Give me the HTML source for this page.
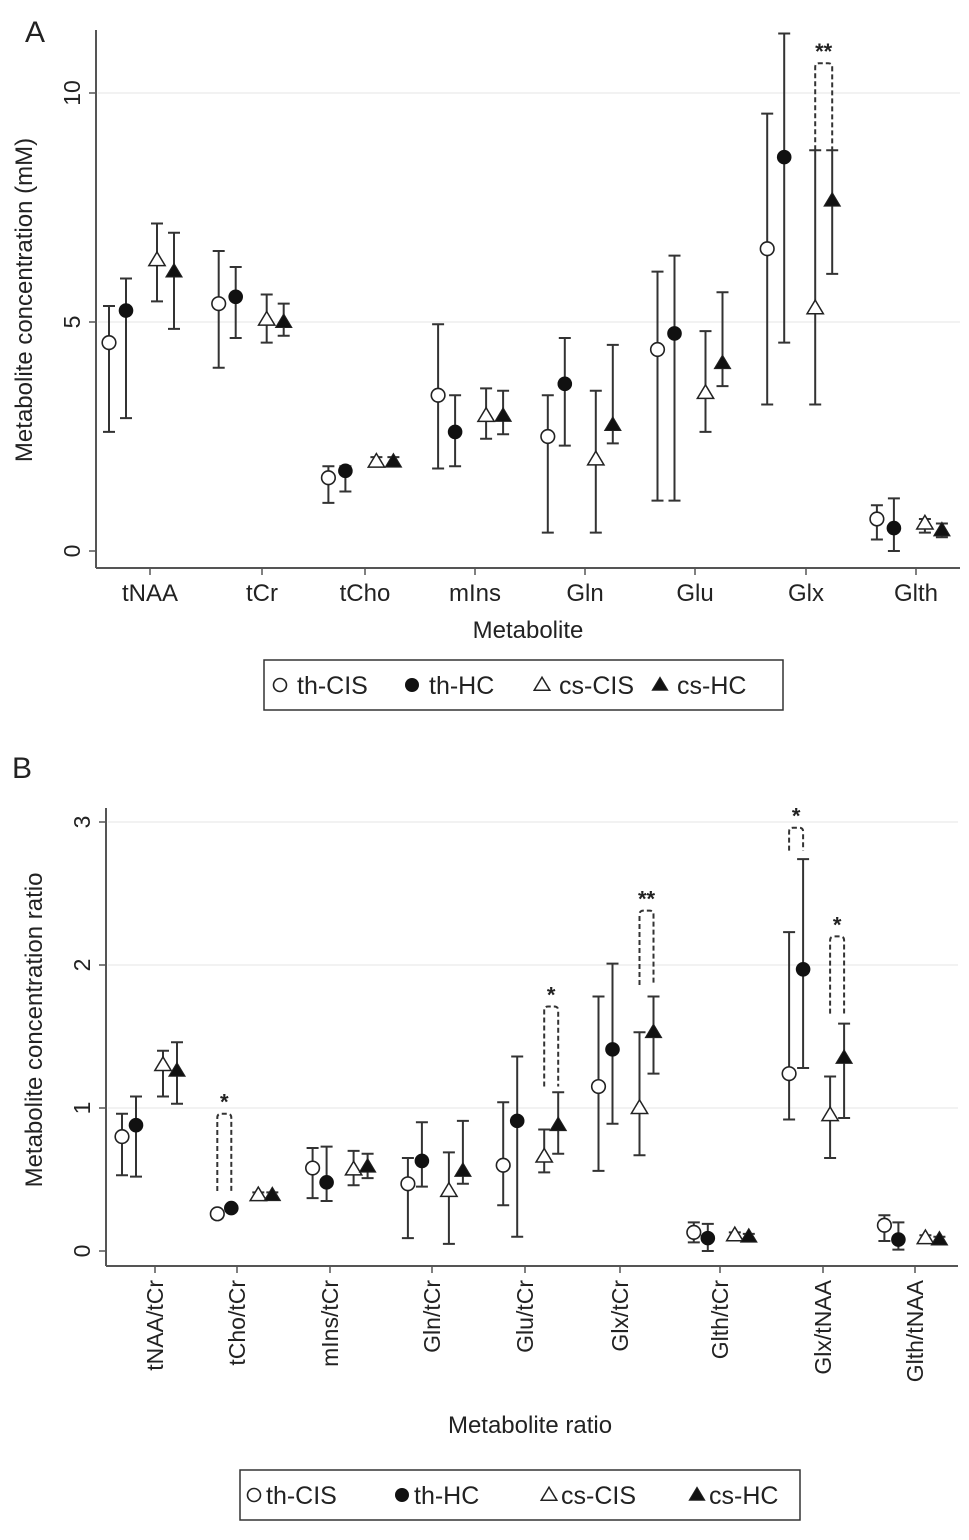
<!DOCTYPE html>
<html><head><meta charset="utf-8"><style>
body{margin:0;background:#fff;width:969px;height:1535px;overflow:hidden;font-family:"Liberation Sans",sans-serif}
svg text{font-family:"Liberation Sans",sans-serif;fill:#222}
</style></head><body>
<svg id="fig" width="969" height="1535"></svg>
<script>
const catsA=["tNAA","tCr","tCho","mIns","Gln","Glu","Glx","Glth"];
const seriesNames=["th-CIS","th-HC","cs-CIS","cs-HC"];
const meanA=[[4.55,5.4,1.6,3.4,2.5,4.4,6.6,0.7],[5.25,5.55,1.75,2.6,3.65,4.75,8.6,0.5],[6.35,5.05,1.95,2.95,2.0,3.45,5.3,0.6],[6.1,5.0,1.95,2.95,2.75,4.1,7.65,0.45]];
const loA=[[2.6,4.0,1.05,1.8,0.4,1.1,3.2,0.25],[2.9,4.65,1.3,1.85,2.3,1.1,4.55,0.0],[5.45,4.55,1.85,2.45,0.4,2.6,3.2,0.4],[4.85,4.7,1.85,2.55,2.35,3.6,6.05,0.3]];
const hiA=[[5.35,6.55,1.85,4.95,3.4,6.1,9.55,1.0],[5.95,6.2,1.85,3.4,4.65,6.45,11.3,1.15],[7.15,5.6,2.05,3.55,3.5,4.8,8.75,0.7],[6.95,5.4,2.05,3.5,4.5,5.65,8.75,0.6]];
const ticksA=[0,5,10];
const catsB=["tNAA/tCr","tCho/tCr","mIns/tCr","Gln/tCr","Glu/tCr","Glx/tCr","Glth/tCr","Glx/tNAA","Glth/tNAA"];
const meanB=[[0.8,0.26,0.58,0.47,0.6,1.15,0.13,1.24,0.18],[0.88,0.3,0.48,0.63,0.91,1.41,0.09,1.97,0.08],[1.3,0.39,0.57,0.42,0.66,1.0,0.11,0.95,0.09],[1.26,0.39,0.59,0.56,0.88,1.53,0.1,1.35,0.08]];
const loB=[[0.53,0.23,0.37,0.09,0.32,0.56,0.06,0.92,0.07],[0.52,0.28,0.35,0.45,0.1,0.89,0.0,1.28,0.01],[1.08,0.37,0.46,0.05,0.55,0.67,0.08,0.65,0.06],[1.03,0.37,0.51,0.47,0.68,1.24,0.07,0.93,0.05]];
const hiB=[[0.96,0.28,0.72,0.65,1.04,1.78,0.2,2.23,0.25],[1.08,0.31,0.73,0.9,1.36,2.01,0.19,2.74,0.2],[1.4,0.41,0.7,0.69,0.85,1.53,0.13,1.22,0.11],[1.46,0.41,0.68,0.91,1.11,1.78,0.12,1.59,0.1]];
const ticksB=[0,1,2,3];
// brackets: [category, seriesA, seriesB, bottom, top, label]
const brA=[[6,2,3,8.75,10.65,"**"]];
const brB=[[1,0,1,0.42,0.96,"*"],[4,2,3,1.15,1.71,"*"],[5,2,3,1.86,2.38,"**"],[7,0,1,2.8,2.96,"*"],[7,2,3,1.66,2.2,"*"]];

const svg=document.getElementById('fig');
const NS="http://www.w3.org/2000/svg";
function mk(tag,attrs,parent){const e=document.createElementNS(NS,tag);for(const k in attrs)e.setAttribute(k,attrs[k]);(parent||svg).appendChild(e);return e;}
function txt(s,attrs,parent){const t=mk('text',attrs,parent);t.textContent=s;return t;}

function marker(g,type,x,y,r){
  let m;
  if(type===0) m=mk('circle',{cx:x,cy:y,r:r,fill:'#fff',stroke:'#222','stroke-width':1.6},g);
  else if(type===1) m=mk('circle',{cx:x,cy:y,r:r+0.5,fill:'#111'},g);
  else { const h=r*2.0; const pts=`${x},${y-h*0.6} ${x-r*1.2},${y+h*0.4} ${x+r*1.2},${y+h*0.4}`;
    m=mk('polygon',{points:pts,fill:type===3?'#111':'#fff',stroke:'#222','stroke-width':type===3?1:1.5},g);}
  return m;
}

function panel(cfg){
  const {letter,cats,mean,lo,hi,ticks,brs,x0,xr,yTop,yAxis,y0,ppu,base,step,offs,ylab,xlab,rot,xlabY,legend}=cfg;
  const Y=v=>y0-v*ppu, X=(i,s)=>base+step*i+offs[s];
  const g=mk('g',{});
  
  
  txt(letter,{x:cfg.lx,y:cfg.ly,'font-size':30},g);
  ticks.forEach(t=>{ if(t>0){const gl=mk('line',{x1:x0+2,x2:xr,y1:Y(t),y2:Y(t),stroke:'#eee','stroke-width':1.5},g);}});
  const ya=mk('line',{x1:x0,x2:x0,y1:yTop,y2:yAxis,stroke:'#555','stroke-width':2},g);
  
  const xa=mk('line',{x1:x0,x2:xr,y1:yAxis,y2:yAxis,stroke:'#555','stroke-width':2},g);
  
  ticks.forEach(t=>{
    mk('line',{x1:x0-7,x2:x0,y1:Y(t),y2:Y(t),stroke:'#555','stroke-width':1.5},g);
    const tl=txt(String(t),{x:x0-16,y:Y(t),'font-size':23,'text-anchor':'middle',transform:`rotate(-90 ${x0-16} ${Y(t)})`},g);
    
  });
  cats.forEach((c,i)=>{
    const cx=cfg.labX[i];
    mk('line',{x1:cx,x2:cx,y1:yAxis,y2:yAxis+7,stroke:'#555','stroke-width':1.5},g);
    let t;
    if(rot) t=txt(c,{x:cx+8,y:yAxis+14,'font-size':23,'text-anchor':'end',transform:`rotate(-90 ${cx+8} ${yAxis+14})`},g);
    else t=txt(c,{x:cx,y:yAxis+33,'font-size':24,'text-anchor':'middle'},g);
    
  });
  const yt=txt(ylab,{x:cfg.ylx,y:cfg.yly,'font-size':24,'text-anchor':'middle',transform:`rotate(-90 ${cfg.ylx} ${cfg.yly})`},g);
  
  const xt=txt(xlab,{x:cfg.xlx,y:xlabY,'font-size':24,'text-anchor':'middle'},g);
  
  for(let s=0;s<4;s++) cats.forEach((c,i)=>{
    const x=X(i,s);
    const eb=mk('path',{d:`M${x},${Y(lo[s][i])}V${Y(hi[s][i])}M${x-6},${Y(lo[s][i])}h12M${x-6},${Y(hi[s][i])}h12`,stroke:'#333','stroke-width':2,fill:'none'},g);
    
    const m=marker(g,s,x,Y(mean[s][i]),6.8);
    
  });
  brs.forEach(b=>{
    const xa2=X(b[0],b[1]),xb=X(b[0],b[2]);
    const p=mk('path',{d:`M${xa2},${Y(b[3])}V${Y(b[4])+4}Q${xa2},${Y(b[4])} ${xa2+4},${Y(b[4])}H${xb-4}Q${xb},${Y(b[4])} ${xb},${Y(b[4])+4}V${Y(b[3])}`,stroke:'#333','stroke-width':2,fill:'none','stroke-dasharray':'5,3'},g);
    
    const st=txt(b[5],{x:(xa2+xb)/2,y:Y(b[4])-4,'font-size':22,'text-anchor':'middle','font-weight':'bold'},g);
    
  });
  const L=legend;
  const lg=mk('g',{},g);
  
  mk('rect',{x:L.x,y:L.y,width:L.w,height:L.h,fill:'#fff',stroke:'#333','stroke-width':1.5},lg);
  seriesNames.forEach((n,s)=>{
    const e=mk('g',{},lg);
    
    marker(e,s,L.mx[s],L.y+L.h/2,6.5);
    txt(n,{x:L.mx[s]+L.tg,y:L.y+L.h/2+9,'font-size':25},e);
  });
}

panel({name:'panel-a',letter:'A',lx:25,ly:42,cats:catsA,mean:meanA,lo:loA,hi:hiA,ticks:ticksA,brs:brA,
  x0:96,xr:960,yTop:30,yAxis:568,y0:551,ppu:45.8,base:141,step:109.7,offs:[-32,-15,16,33],
  labX:[150,262,365,475,585,695,806,916],rot:false,
  ylab:'Metabolite concentration (mM)',ylx:32,yly:300,xlab:'Metabolite',xlx:528,xlabY:638,
  legend:{x:264,y:660,w:519,h:50,mx:[280,412,542,660],tg:17}});

panel({name:'panel-b',letter:'B',lx:12,ly:778,cats:catsB,mean:meanB,lo:loB,hi:hiB,ticks:ticksB,brs:brB,
  x0:106,xr:958,yTop:808,yAxis:1266,y0:1251,ppu:143,base:149,step:95.3,offs:[-27,-13,14,28],
  labX:[155,237,330,432,525,620,720,823,915],rot:true,
  ylab:'Metabolite concentration ratio',ylx:42,yly:1030,xlab:'Metabolite ratio',xlx:530,xlabY:1433,
  legend:{x:240,y:1470,w:560,h:50,mx:[254,402,549,697],tg:12}});
</script>
</body></html>
